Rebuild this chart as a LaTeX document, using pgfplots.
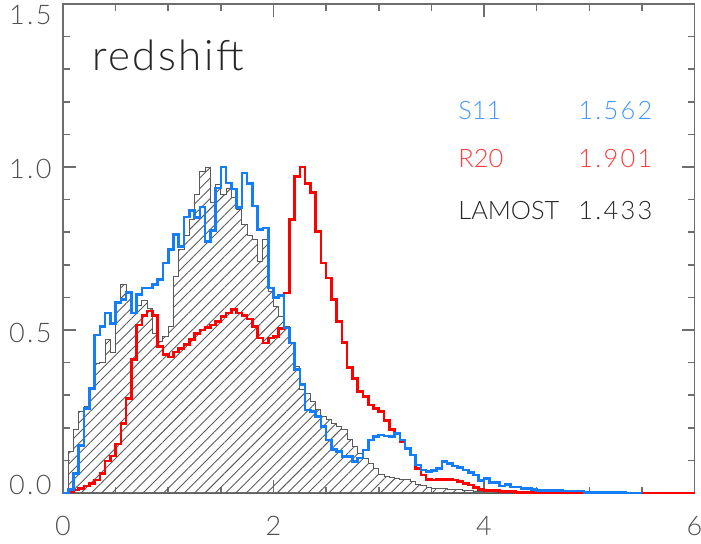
\documentclass[border=0pt]{standalone}
\usepackage{fontspec}
\setmainfont{Lato Light}
\newfontfamily\numfont{Lato Light}[LetterSpace=9]
\newfontfamily\rsfont{Lato Light}[LetterSpace=6]
\usepackage{pgfplots}
\pgfplotsset{compat=1.18}
\usepackage{pgfplotstable}
\usetikzlibrary{patterns.meta}
\definecolor{sblue}{RGB}{20,125,250}
\definecolor{rred}{RGB}{255,0,0}
\definecolor{tblue}{RGB}{70,150,255}
\definecolor{tred}{RGB}{255,60,60}
\definecolor{axisgray}{RGB}{110,110,110}
\definecolor{labelgray}{RGB}{80,80,80}
\definecolor{histgray}{RGB}{90,90,90}

\pgfplotstableread{
x lam r20 s11
0.00 0 0 0
0.05 0.127 0.004 0.01
0.10 0.196 0.009 0.06
0.15 0.25 0.014 0.145
0.20 0.265 0.021 0.26
0.25 0.32 0.03 0.32
0.30 0.396 0.04 0.485
0.35 0.40 0.06 0.51
0.40 0.472 0.098 0.552
0.45 0.431 0.113 0.52
0.50 0.58 0.15 0.585
0.55 0.64 0.213 0.593
0.60 0.615 0.29 0.615
0.65 0.55 0.41 0.552
0.70 0.575 0.515 0.608
0.75 0.59 0.545 0.629
0.80 0.565 0.558 0.629
0.85 0.49 0.545 0.639
0.90 0.465 0.45 0.655
0.95 0.48 0.424 0.705
1.00 0.51 0.417 0.747
1.05 0.665 0.432 0.793
1.10 0.747 0.444 0.757
1.15 0.79 0.455 0.847
1.20 0.84 0.47 0.867
1.25 0.915 0.49 0.845
1.30 0.987 0.50 0.877
1.35 1.0 0.508 0.772
1.40 0.89 0.515 0.805
1.45 0.946 0.527 0.936
1.50 0.915 0.542 1.0
1.55 0.933 0.552 0.951
1.60 0.905 0.563 0.933
1.65 0.87 0.552 0.875
1.70 0.823 0.545 0.982
1.75 0.79 0.534 0.949
1.80 0.777 0.511 0.88
1.85 0.711 0.475 0.808
1.90 0.777 0.46 0.813
1.95 0.618 0.475 0.629
2.00 0.572 0.48 0.60
2.05 0.54 0.505 0.605
2.10 0.511 0.613 0.506
2.15 0.46 0.839 0.46
2.20 0.388 0.97 0.378
2.25 0.316 1.0 0.332
2.30 0.306 0.949 0.255
2.35 0.28 0.921 0.25
2.40 0.255 0.803 0.235
2.45 0.235 0.706 0.204
2.50 0.224 0.66 0.163
2.55 0.214 0.593 0.134
2.60 0.204 0.526 0.127
2.65 0.194 0.462 0.112
2.70 0.163 0.385 0.112
2.75 0.142 0.352 0.096
2.80 0.122 0.311 0.107
2.85 0.107 0.296 0.132
2.90 0.091 0.27 0.163
2.95 0.076 0.26 0.173
3.00 0.058 0.25 0.178
3.05 0.05 0.222 0.175
3.10 0.048 0.194 0.173
3.15 0.045 0.183 0.183
3.20 0.04 0.158 0.163
3.25 0.042 0.137 0.137
3.30 0.035 0.117 0.117
3.35 0.025 0.076 0.086
3.40 0.022 0.055 0.071
3.45 0.017 0.042 0.066
3.50 0.014 0.04 0.069
3.55 0.014 0.042 0.076
3.60 0.013 0.042 0.096
3.65 0.012 0.042 0.091
3.70 0.011 0.04 0.083
3.75 0.01 0.035 0.079
3.80 0.008 0.03 0.07
3.85 0.007 0.025 0.063
3.90 0.006 0.017 0.055
3.95 0.005 0.011 0.038
4.00 0.004 0.007 0.045
4.05 0.004 0.007 0.033
4.10 0.003 0.007 0.032
4.15 0.003 0.004 0.022
4.20 0.003 0.004 0.027
4.25 0.002 0.004 0.019
4.30 0.002 0.002 0.019
4.35 0.002 0.002 0.014
4.40 0.002 0.002 0.014
4.45 0.001 0.002 0.011
4.50 0.001 0.002 0.008
4.55 0.001 0.002 0.008
4.60 0.001 0.002 0.008
4.65 0.001 0.002 0.008
4.70 0.001 0.002 0.008
4.75 0.001 0.002 0.006
4.80 0.001 0.001 0.006
4.85 0.001 0.001 0.006
4.90 0.001 0.001 0.006
4.95 0.001 0.001 0.002
5.00 0 0.001 0.002
5.05 0 0.001 0.002
5.10 0 0.001 0.002
5.15 0 0.001 0.002
5.20 0 0.001 0.002
5.25 0 0.001 0.002
5.30 0 0 0.002
5.35 0 0 0
5.40 0 0 0
5.45 0 0 0
5.50 0 0 0
5.55 0 0 0
5.60 0 0 0
5.65 0 0 0
5.70 0 0 0
5.75 0 0 0
5.80 0 0 0
5.85 0 0 0
5.90 0 0 0
5.95 0 0 0
6.00 0 0 0
}\histdata

\begin{document}
\begin{tikzpicture}
\path[use as bounding box] (-31.5pt,-25pt) rectangle (319pt,246.5pt);
\begin{axis}[
  scale only axis,
  width=315.75pt, height=244.5pt,
  xmin=0, xmax=6, ymin=0, ymax=1.5,
  xtick={0,2,4,6}, xticklabels={0,2,4,6},
  minor x tick num=3,
  ytick={0,0.5,1,1.5}, yticklabels={},
  minor y tick num=4,
  tick align=inside,
  major tick length=6.5pt, minor tick length=3.25pt,
  tick style={color=axisgray, line width=0.75pt},
  axis line style={color=axisgray, line width=0.75pt},
  xticklabel style={inner sep=0pt, anchor=north, yshift=-11.3pt, text=labelgray, font=\numfont\fontsize{13.5}{15}\selectfont},
  /pgf/number format/assume math mode=true,
  clip mode=individual,
]
\addplot[const plot mark left, draw=histgray, line width=0.5pt,
  pattern={Lines[angle=45,distance=3.65pt,line width=0.45pt]}, pattern color=histgray,
  restrict x to domain=0:5.0]
  table[x=x, y=lam] {\histdata} \closedcycle;
\addplot[const plot mark left, draw=rred, line width=1.3pt]
  table[x=x, y=r20] {\histdata};
\addplot[const plot mark left, draw=sblue, line width=1.3pt, restrict x to domain=0:5.5]
  table[x=x, y=s11] {\histdata};

\node[anchor=base west, inner sep=0pt, font=\rsfont\fontsize{21}{24}\selectfont, text=black!85] at (axis cs:0.273,1.2975) {redshift};
\node[anchor=base west, inner sep=0pt, font=\fontsize{12.7}{15}\selectfont, text=tblue] at (axis cs:3.753,1.147) {S11};
\node[anchor=base west, inner sep=0pt, font=\numfont\fontsize{12.7}{15}\selectfont, text=tblue] at (axis cs:4.893,1.147) {1.562};
\node[anchor=base west, inner sep=0pt, font=\fontsize{12.7}{15}\selectfont, text=tred] at (axis cs:3.753,0.997) {R20};
\node[anchor=base west, inner sep=0pt, font=\numfont\fontsize{12.7}{15}\selectfont, text=tred] at (axis cs:4.893,0.997) {1.901};
\node[anchor=base west, inner sep=0pt, font=\fontsize{12.7}{15}\selectfont, text=black!85] at (axis cs:3.753,0.84) {LAMOST};
\node[anchor=base west, inner sep=0pt, font=\numfont\fontsize{12.7}{15}\selectfont, text=black!85] at (axis cs:4.893,0.84) {1.433};

\node[anchor=east, inner sep=0pt, xshift=-5.5pt, font=\numfont\fontsize{13.5}{15}\selectfont, text=labelgray] at (axis cs:0,1.466) {1.5};
\node[anchor=east, inner sep=0pt, xshift=-5.5pt, font=\numfont\fontsize{13.5}{15}\selectfont, text=labelgray] at (axis cs:0,0.994) {1.0};
\node[anchor=east, inner sep=0pt, xshift=-5.5pt, font=\numfont\fontsize{13.5}{15}\selectfont, text=labelgray] at (axis cs:0,0.49) {0.5};
\node[anchor=east, inner sep=0pt, xshift=-5.5pt, font=\numfont\fontsize{13.5}{15}\selectfont, text=labelgray] at (axis cs:0,0.025) {0.0};
\end{axis}
\end{tikzpicture}
\end{document}
